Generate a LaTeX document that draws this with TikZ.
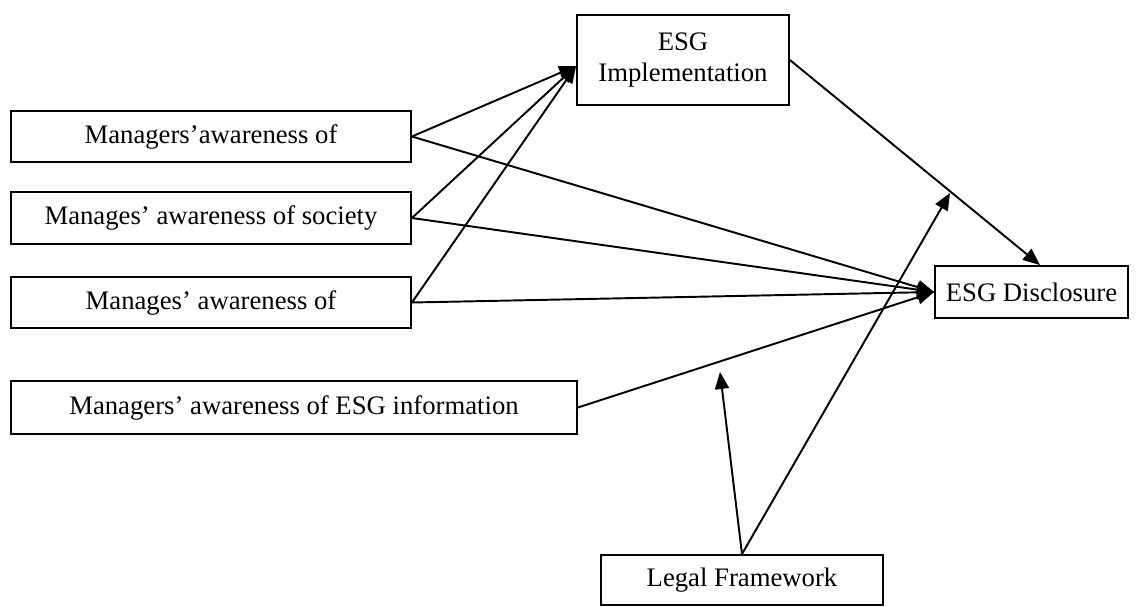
\documentclass[tikz,border=0pt]{standalone}
\usepackage{fontspec}
\setmainfont{Liberation Serif}
\usetikzlibrary{arrows.meta}
\tikzset{
	varbox/.style={draw, line width=1.1pt, inner sep=0pt, align=center, font=\fontsize{15.2}{18}\selectfont},
	link/.style={line width=1.1pt, -{Triangle[length=0.34cm, width=0.28cm]}}
}

\begin{document}
\begin{tikzpicture}[x=0.02cm, y=-0.02cm]
	\useasboundingbox (0,0) rectangle (1137,606);

	\node[varbox, minimum width=8cm, minimum height=1.02cm] (mone) at (211,136.5) {Managers’awareness of};
	\node[varbox, minimum width=8cm, minimum height=1.04cm] (mtwo) at (211,218) {Manages’ awareness of society};
	\node[varbox, minimum width=8cm, minimum height=1.02cm] (mthree) at (211,302.5) {Manages’ awareness of};
	\node[varbox, minimum width=11.32cm, minimum height=1.06cm] (mfour) at (294,407.5) {Managers’ awareness of ESG information};
	\node[varbox, minimum width=4.24cm, minimum height=1.8cm] (impl) at (683,60) {ESG\\Implementation};
	\node[varbox, minimum width=3.86cm, minimum height=1.04cm] (disc) at (1031.5,292) {ESG Disclosure};
	\node[varbox, minimum width=5.64cm, minimum height=1.0cm] (legal) at (742,580) {Legal Framework};

	\coordinate (implin) at ([yshift=-0.12cm]impl.west);
	\coordinate (discin) at ([xshift=0.17cm]disc.north);
	\coordinate (modone) at (950,193);
	\coordinate (modtwo) at (720,372);

	\draw[link] (mone.east) -- (implin);
	\draw[link] (mtwo.east) -- (implin);
	\draw[link] (mthree.east) -- (implin);

	\draw[link] (mone.east) -- (disc.west);
	\draw[link] (mtwo.east) -- (disc.west);
	\draw[link] (mthree.east) -- (disc.west);
	\draw[link] (mfour.east) -- (disc.west);

	\draw[link] (impl.east) -- (discin);
	\draw[link] (legal.north) -- (modone);
	\draw[link] (legal.north) -- (modtwo);
\end{tikzpicture}
\end{document}
